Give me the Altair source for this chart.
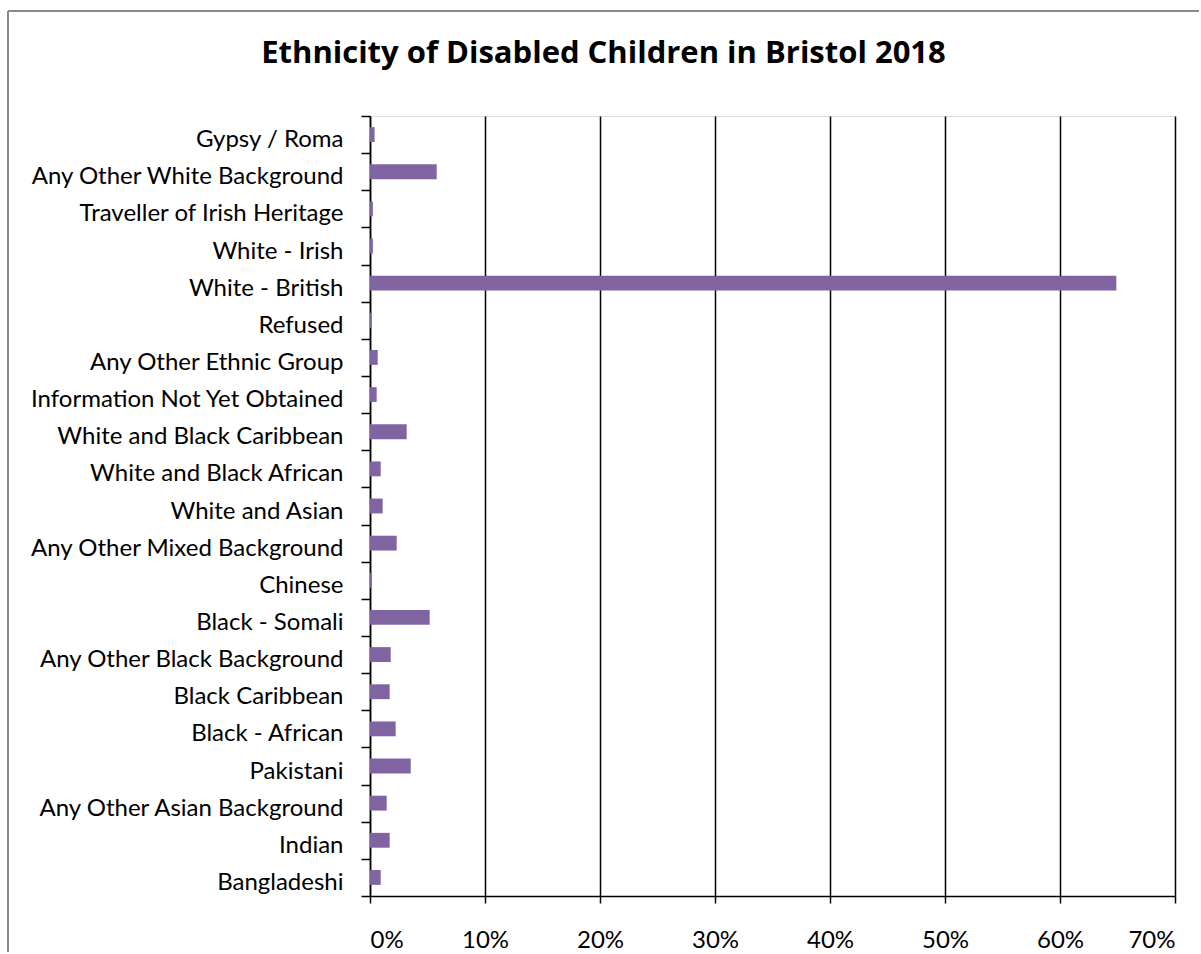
import altair as alt
import pandas as pd

categories = [
    "Gypsy / Roma",
    "Any Other White Background",
    "Traveller of Irish Heritage",
    "White - Irish",
    "White - British",
    "Refused",
    "Any Other Ethnic Group",
    "Information Not Yet Obtained",
    "White and Black Caribbean",
    "White and Black African",
    "White and Asian",
    "Any Other Mixed Background",
    "Chinese",
    "Black - Somali",
    "Any Other Black Background",
    "Black Caribbean",
    "Black - African",
    "Pakistani",
    "Any Other Asian Background",
    "Indian",
    "Bangladeshi",
]
percent = [0.4, 5.8, 0.25, 0.25, 64.9, 0.12, 0.67, 0.58, 3.19, 0.93, 1.1,
           2.32, 0.15, 5.19, 1.8, 1.71, 2.23, 3.54, 1.45, 1.71, 0.93]
x_ticks = [0, 0.1, 0.2, 0.3, 0.4, 0.5, 0.6, 0.7]

df = pd.DataFrame({"Ethnicity": categories, "Share": [v / 100 for v in percent]})

FONT = "Lato"

bars = alt.Chart(df).mark_bar(color="#8064A2", height={"band": 0.4}).encode(
    y=alt.Y(
        "Ethnicity:N",
        sort=categories,
        title=None,
        scale=alt.Scale(paddingInner=0, paddingOuter=0),
        axis=alt.Axis(
            tickBand="extent",
            tickSize=9,
            tickColor="black",
            tickWidth=1.5,
            domainColor="black",
            domainWidth=1.5,
            labelFont=FONT,
            labelFontSize=24,
            labelColor="black",
            labelPadding=18,
            labelOffset=5,
            labelLimit=400,
            grid=False,
        ),
    ),
    x=alt.X(
        "Share:Q",
        title=None,
        scale=alt.Scale(domain=[0, 0.7], nice=False),
        axis=alt.Axis(
            values=x_ticks,
            format=".0%",
            grid=True,
            gridColor="black",
            gridWidth=1.5,
            tickSize=7,
            tickColor="black",
            tickWidth=1.5,
            domainColor="black",
            domainWidth=1.5,
            labelFont=FONT,
            labelFontSize=24,
            labelColor="black",
            labelPadding=25,
        ),
    ),
)

frame_data = pd.DataFrame({"k": [0]})
top_line = alt.Chart(frame_data).mark_rule(color="#898989", strokeWidth=2).encode(
    x=alt.value(-362), x2=alt.value(829), y=alt.value(-105)
)
left_line = alt.Chart(frame_data).mark_rule(color="#898989", strokeWidth=2).encode(
    x=alt.value(-362), y=alt.value(-105), y2=alt.value(836)
)

chart = alt.layer(bars, top_line, left_line).properties(
    width=805,
    height=780,
    padding={"left": 7, "top": 10, "right": 0, "bottom": 0},
    title=alt.TitleParams(
        text="Ethnicity of Disabled Children in Bristol 2018",
        font="Open Sans",
        fontSize=31,
        fontWeight="bold",
        color="black",
        anchor="middle",
        dx=-169,
        offset=-60,
    ),
).configure_view(stroke=None).configure(background="white")

chart.save("out.html", embed_options={"renderer": "svg", "actions": False})
